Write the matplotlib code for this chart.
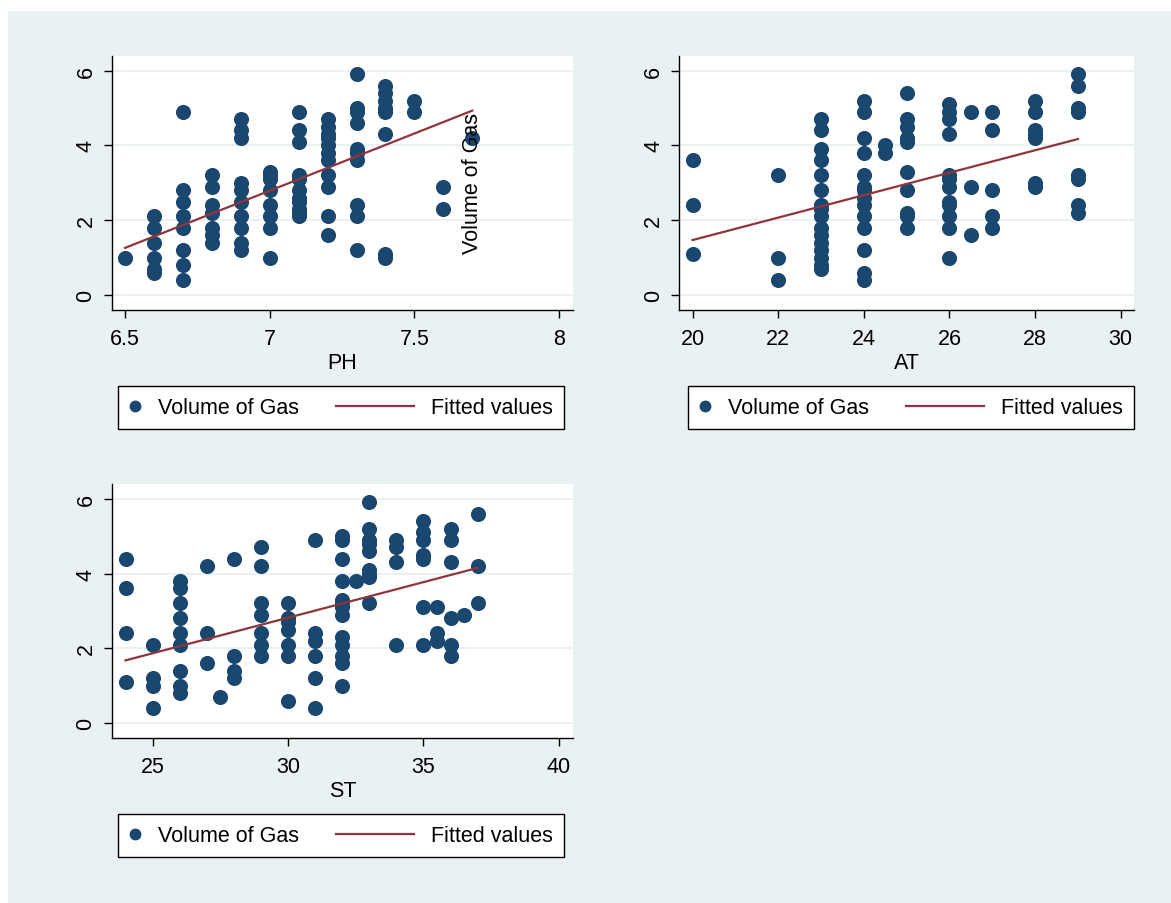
import matplotlib
matplotlib.use("Agg")
import matplotlib.pyplot as plt
from matplotlib.lines import Line2D
from matplotlib.patches import Rectangle
from matplotlib.legend_handler import HandlerLine2D

plt.rcParams['font.family'] = ['Liberation Sans', 'DejaVu Sans']

# volume of gas against PH
ph = [6.5,
      6.6, 6.6, 6.6, 6.6, 6.6, 6.6,
      6.7, 6.7, 6.7, 6.7, 6.7, 6.7, 6.7, 6.7,
      6.8, 6.8, 6.8, 6.8, 6.8, 6.8, 6.8,
      6.9, 6.9, 6.9, 6.9, 6.9, 6.9, 6.9, 6.9, 6.9, 6.9,
      7.0, 7.0, 7.0, 7.0, 7.0, 7.0, 7.0, 7.0,
      7.1, 7.1, 7.1, 7.1, 7.1, 7.1, 7.1, 7.1, 7.1, 7.1, 7.1,
      7.2, 7.2, 7.2, 7.2, 7.2, 7.2, 7.2, 7.2, 7.2, 7.2, 7.2,
      7.3, 7.3, 7.3, 7.3, 7.3, 7.3, 7.3, 7.3, 7.3, 7.3,
      7.4, 7.4, 7.4, 7.4, 7.4, 7.4, 7.4, 7.4,
      7.5, 7.5,
      7.6, 7.6,
      7.7]
gas_ph = [1.0,
          2.1, 1.8, 1.4, 1.0, 0.7, 0.6,
          4.9, 2.8, 2.5, 2.1, 1.8, 1.2, 0.8, 0.4,
          3.2, 2.9, 2.4, 2.2, 1.8, 1.6, 1.4,
          4.7, 4.4, 4.2, 3.0, 2.8, 2.5, 2.1, 1.8, 1.4, 1.2,
          3.3, 3.2, 3.1, 2.8, 2.4, 2.1, 1.8, 1.0,
          4.9, 4.4, 4.1, 3.2, 3.1, 2.8, 2.6, 2.5, 2.3, 2.2, 2.1,
          4.7, 4.5, 4.3, 4.2, 4.0, 3.8, 3.6, 3.2, 2.9, 2.1, 1.6,
          5.9, 5.0, 4.9, 4.6, 3.9, 3.8, 3.6, 2.4, 2.1, 1.2,
          5.6, 5.4, 5.2, 5.0, 4.9, 4.3, 1.1, 1.0,
          5.2, 4.9,
          2.9, 2.3,
          4.2]
fit_ph_x = [6.5, 7.7]
fit_ph_y = [1.26, 4.93]

# volume of gas against AT
at = [20, 20, 20,
      22, 22, 22,
      23, 23, 23, 23, 23, 23, 23, 23, 23, 23, 23, 23, 23, 23, 23, 23,
      24, 24, 24, 24, 24, 24, 24, 24, 24, 24, 24, 24, 24, 24,
      24.5, 24.5,
      25, 25, 25, 25, 25, 25, 25, 25, 25, 25,
      26, 26, 26, 26, 26, 26, 26, 26, 26, 26, 26, 26,
      26.5, 26.5, 26.5,
      27, 27, 27, 27, 27,
      28, 28, 28, 28, 28, 28, 28,
      29, 29, 29, 29, 29, 29, 29, 29]
gas_at = [3.6, 2.4, 1.1,
          3.2, 1.0, 0.4,
          4.7, 4.4, 3.9, 3.6, 3.2, 2.8, 2.4, 2.3, 2.1, 1.8, 1.6, 1.4, 1.2, 1.0, 0.8, 0.7,
          5.2, 4.9, 4.2, 3.8, 3.2, 2.9, 2.8, 2.6, 2.4, 2.1, 1.8, 1.2, 0.6, 0.4,
          4.0, 3.8,
          5.4, 4.7, 4.5, 4.2, 4.1, 3.3, 2.8, 2.2, 2.1, 1.8,
          5.1, 4.9, 4.7, 4.3, 3.2, 3.1, 2.9, 2.5, 2.4, 2.1, 1.8, 1.0,
          4.9, 2.9, 1.6,
          4.9, 4.4, 2.8, 2.1, 1.8,
          5.2, 4.9, 4.4, 4.3, 4.2, 3.0, 2.9,
          5.9, 5.6, 5.0, 4.9, 3.2, 3.1, 2.4, 2.2]
fit_at_x = [20, 29]
fit_at_y = [1.47, 4.17]

# volume of gas against ST
st = [24, 24, 24, 24,
      25, 25, 25, 25,
      26, 26, 26, 26, 26, 26, 26, 26, 26,
      27, 27, 27,
      27.5,
      28, 28, 28, 28,
      29, 29, 29, 29, 29, 29, 29,
      30, 30, 30, 30, 30, 30, 30,
      31, 31, 31, 31, 31, 31,
      32, 32, 32, 32, 32, 32, 32, 32, 32, 32, 32, 32, 32,
      32.5,
      33, 33, 33, 33, 33, 33, 33, 33, 33,
      34, 34, 34, 34,
      35, 35, 35, 35, 35, 35, 35,
      35.5, 35.5, 35.5,
      36, 36, 36, 36, 36, 36,
      36.5,
      37, 37, 37]
gas_st = [4.4, 3.6, 2.4, 1.1,
          2.1, 1.2, 1.0, 0.4,
          3.8, 3.6, 3.2, 2.8, 2.4, 2.1, 1.4, 1.0, 0.8,
          4.2, 2.4, 1.6,
          0.7,
          4.4, 1.8, 1.4, 1.2,
          4.7, 4.2, 3.2, 2.9, 2.4, 2.1, 1.8,
          3.2, 2.8, 2.7, 2.5, 2.1, 1.8, 0.6,
          4.9, 2.4, 2.2, 1.8, 1.2, 0.4,
          5.0, 4.9, 4.4, 3.8, 3.3, 3.2, 3.1, 2.9, 2.3, 2.1, 1.8, 1.6, 1.0,
          3.8,
          5.9, 5.2, 4.9, 4.8, 4.6, 4.1, 4.0, 3.9, 3.2,
          4.9, 4.7, 4.3, 2.1,
          5.4, 5.1, 4.9, 4.5, 4.4, 3.1, 2.1,
          3.1, 2.4, 2.2,
          5.2, 4.9, 4.3, 2.8, 2.1, 1.8,
          2.9,
          5.6, 4.2, 3.2]
fit_st_x = [24, 37]
fit_st_y = [1.68, 4.15]

y_ticks = [0, 2, 4, 6]
ph_ticks = [6.5, 7, 7.5, 8]
ph_labels = ["6.5", "7", "7.5", "8"]
at_ticks = [20, 22, 24, 26, 28, 30]
st_ticks = [25, 30, 35, 40]

NAVY = "#1a476f"
MAROON = "#90353b"
BG = "#e9f1f3"
FS = 15.5

W, H = 1171, 904
fig = plt.figure(figsize=(W / 100, H / 100), dpi=100, facecolor="white")
fig.patches.append(Rectangle((8 / W, 0), 1 - 8 / W, 1 - 12 / H,
                             transform=fig.transFigure, facecolor=BG,
                             edgecolor="none", zorder=-10))


class LongLineHandler(HandlerLine2D):
    # line sticks out to the left of the handle box, like in stata legends
    def get_xdata(self, legend, xdescent, ydescent, width, height, fontsize):
        x1 = -xdescent + width
        return [x1 - 3.6 * fontsize, x1], [x1]


def px_axes(l, t, r, b):
    return fig.add_axes([l / W, 1 - b / H, (r - l) / W, (b - t) / H])


def panel(ax, x, y, fx, fy, xlim, xticks, xlabels, xlabel, leg_xy):
    ax.set_facecolor("white")
    for yt in y_ticks:
        ax.axhline(yt, color=BG, lw=1.5, zorder=0)
    ax.scatter(x, y, s=118, color=NAVY, linewidths=0, zorder=2)
    ax.plot(fx, fy, color=MAROON, lw=1.6, zorder=3)
    ax.set_xlim(*xlim)
    ax.set_ylim(-0.40, 6.39)
    ax.set_xticks(xticks)
    ax.set_xticklabels(xlabels)
    ax.set_yticks(y_ticks)
    ax.set_yticklabels([str(v) for v in y_ticks], rotation=90, va="center")
    ax.spines["top"].set_visible(False)
    ax.spines["right"].set_visible(False)
    ax.spines["left"].set_linewidth(1.0)
    ax.spines["bottom"].set_linewidth(1.0)
    ax.tick_params(axis="both", direction="out", length=6, width=1.0,
                   labelsize=FS, colors="black")
    ax.tick_params(axis="y", pad=5)
    ax.tick_params(axis="x", pad=7)
    ax.set_xlabel(xlabel, fontsize=FS, labelpad=2)

    dot = Line2D([], [], marker="o", ls="none", color=NAVY, markersize=7.5)
    line = Line2D([], [], color=MAROON, lw=1.6)
    leg = ax.legend([dot, line], ["Volume of Gas", "Fitted values"], ncol=2,
                    loc="upper left", bbox_to_anchor=(leg_xy[0] / W, 1 - leg_xy[1] / H),
                    bbox_transform=fig.transFigure, borderaxespad=0,
                    fontsize=FS, frameon=True, fancybox=False,
                    handlelength=0.56, handletextpad=0.8, columnspacing=4.75,
                    borderpad=0.52,
                    handler_map={line: LongLineHandler()})
    leg.get_frame().set_edgecolor("black")
    leg.get_frame().set_linewidth(1.0)
    leg.get_frame().set_facecolor("white")
    leg.get_frame().set_alpha(1)
    return ax


ax1 = px_axes(111.7, 57, 573, 311)
panel(ax1, ph, gas_ph, fit_ph_x, fit_ph_y, (6.454, 8.048), ph_ticks, ph_labels,
      "PH", (118, 387))
ax1.text(7.7, 3.0, "Volume of Gas", rotation=90, ha="center", va="center",
         fontsize=FS, zorder=5)

ax2 = px_axes(679.3, 57, 1134, 311)
panel(ax2, at, gas_at, fit_at_x, fit_at_y, (19.69, 30.31), at_ticks,
      [str(v) for v in at_ticks], "AT", (688, 387))

ax3 = px_axes(111.7, 485, 573, 739.3)
panel(ax3, st, gas_st, fit_st_x, fit_st_y, (23.49, 40.52), st_ticks,
      [str(v) for v in st_ticks], "ST", (118, 815))

fig.savefig("out.png", dpi=100, facecolor="white")
